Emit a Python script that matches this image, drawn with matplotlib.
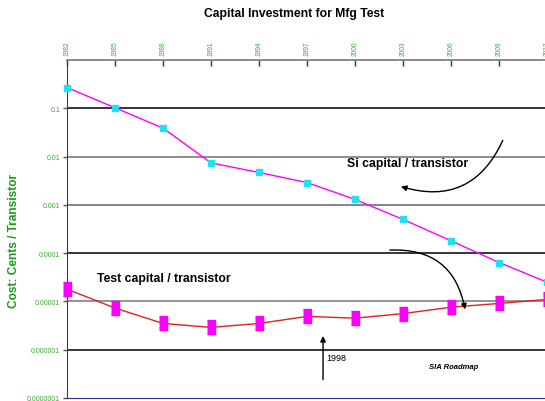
import numpy as np
import matplotlib.pyplot as plt

plt.rcParams['font.family'] = ['Liberation Sans', 'DejaVu Sans']

years = [1982, 1985, 1988, 1991, 1994, 1997, 2000, 2003, 2006, 2009, 2012]
si_cost = [0.27, 0.103, 0.039, 0.0074, 0.0047, 0.0029, 0.0013, 0.0005, 0.00018, 0.000064, 0.000025]
test_cost = [1.8e-5, 7.3e-6, 3.5e-6, 2.9e-6, 3.5e-6, 4.9e-6, 4.5e-6, 5.6e-6, 7.6e-6, 9.1e-6, 1.1e-5]
y_ticks = [1e-7, 1e-6, 1e-5, 1e-4, 1e-3, 1e-2, 1e-1]
y_labels = ['0.0000001', '0.000001', '0.00001', '0.0001', '0.001', '0.01', '0.1']
grid_colors = ['#3030a0', 'black', '#777777', 'black', '#666666', '#707070', 'black']

green = '#3aa83a'

fig = plt.figure(figsize=(5.45, 4.02), dpi=100)
ax = fig.add_axes([0.1229, 0.0075, 0.881, 0.8405])
ax.set_yscale('log')
ax.set_xlim(1982, 2012)
ax.set_ylim(1e-7, 1)

# horizontal rules per decade
for yv, c in zip(y_ticks[1:], grid_colors[1:]):
    ax.axhline(yv, color=c, lw=1.1, zorder=1)

# tall bar-shaped marker for the test series
bar = [(-0.27, -0.5), (0.27, -0.5), (0.27, 0.5), (-0.27, 0.5)]

ax.plot(years, si_cost, color='#ff00ff', lw=1, marker='s', ms=4.5,
        mfc='#22e0f0', mec='#22e0f0', zorder=3, clip_on=False)
ax.plot(years, test_cost, color='#e02020', lw=1, marker=bar, ms=9.5,
        mfc='#ff00ff', mec='#ff00ff', zorder=3, clip_on=False)

ax.xaxis.tick_top()
ax.set_xticks(years)
ax.set_xticklabels([str(y) for y in years], rotation=90, color=green, fontsize=4.8)
ax.tick_params(axis='x', direction='in', length=4.5, width=1, color='#333333', pad=4)
ax.set_yticks(y_ticks)
ax.set_yticklabels(y_labels, color=green, fontsize=5)
ax.yaxis.set_minor_locator(plt.NullLocator())
ax.tick_params(axis='y', direction='out', length=3, width=1, color='#555555', pad=2)

ax.spines['right'].set_visible(False)
ax.spines['top'].set_color('#777777')
ax.spines['top'].set_linewidth(1.2)
ax.spines['left'].set_color('#3030a0')
ax.spines['bottom'].set_color('#3030a0')

fig.text(0.539, 0.965, 'Capital Investment for Mfg Test', ha='center', va='center',
         fontsize=8.7, fontweight='bold')
fig.text(0.026, 0.40, 'Cost: Cents / Transistor', rotation=90, ha='center', va='center',
         fontsize=8.6, fontweight='bold', color='#1a9a1a')

ax.text(1999.5, 0.0074, 'Si capital / transistor', fontsize=8.8, va='center', ha='left',
        fontweight='bold')
ax.text(1983.9, 3.0e-5, 'Test capital / transistor', fontsize=8.8, va='center', ha='left',
        fontweight='bold')
ax.text(1998.2, 6.8e-7, '1998', fontsize=6.5, va='center', ha='left')
ax.text(2004.6, 4.5e-7, 'SIA Roadmap', fontsize=5.5, va='center', ha='left',
        fontstyle='italic', fontweight='bold')

arrow = dict(arrowstyle='-|>', color='black', lw=1, mutation_scale=8)
ax.annotate('', xy=(2002.7, 0.0025), xytext=(2009.3, 0.0245),
            arrowprops=dict(arrow, connectionstyle='arc3,rad=-0.45'))
ax.annotate('', xy=(2006.9, 6e-6), xytext=(2002.0, 1.15e-4),
            arrowprops=dict(arrow, connectionstyle='arc3,rad=-0.45'))
ax.annotate('', xy=(1998, 2.2e-6), xytext=(1998, 2.1e-7),
            arrowprops=dict(arrow, connectionstyle='arc3,rad=0'))

fig.savefig('out.png', dpi=100)
